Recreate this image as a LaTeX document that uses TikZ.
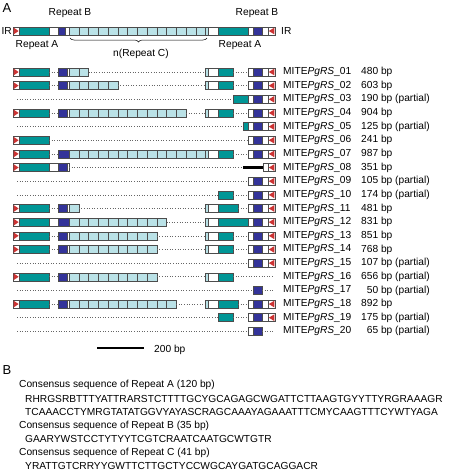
\documentclass[tikz,border=0pt]{standalone}
\usepackage{fontspec}
\setmainfont{Liberation Sans}
\usetikzlibrary{decorations.pathreplacing}

\definecolor{repA}{RGB}{0,150,150}
\definecolor{repB}{RGB}{51,51,153}
\definecolor{repC}{RGB}{186,226,231}
\definecolor{irred}{RGB}{204,51,51}

\tikzset{
    my-rep-a/.style={
        draw=black!70, fill=repA, line width=0.5pt
    },
    my-rep-b/.style={
        draw=black!70, fill=repB, line width=0.5pt
    },
    my-rep-c/.style={
        draw=black!70, fill=repC, line width=0.5pt
    },
    my-spacer/.style={
        draw=black!70, fill=white, line width=0.5pt
    },
    my-tir/.style={
        fill=irred
    },
    my-gap/.style={
        draw=black!60, dotted, line width=0.6pt
    },
    my-label/.style={
        font=\fontsize{10.2}{12}\selectfont, inner sep=0pt
    },
}

% BOXES AND LINES OF ONE ROW
\newcommand{\segbox}[4]{\draw[#1] (#2,{#4-4}) rectangle (#3,{#4+4});}
\newcommand{\gapline}[3]{\draw[my-gap] (#1,#3) -- (#2,#3);}
\newcommand{\tirleft}[1]{\draw[my-spacer] (13,{#1-4}) rectangle (19,{#1+4});
    \fill[my-tir] (13.6,{#1-3.4}) -- (18.6,#1) -- (13.6,{#1+3.4}) -- cycle;}
\newcommand{\tirright}[1]{\draw[my-spacer] (268,{#1-4}) rectangle (275,{#1+4});
    \fill[my-tir] (274.4,{#1-3.4}) -- (268.8,#1) -- (274.4,{#1+3.4}) -- cycle;}
\newcommand{\leftend}[1]{\tirleft{#1}\segbox{my-rep-a}{19}{49}{#1}}
\newcommand{\repb}[1]{\segbox{my-rep-b}{58}{67}{#1}\segbox{my-spacer}{67}{69}{#1}}
\newcommand{\cells}[2]{\foreach \k in {1,...,#1}{\segbox{my-rep-c}{{69+(\k-1)*9.75}}{{69+\k*9.75}}{#2}}}
\newcommand{\rightstart}[2]{\segbox{my-rep-c}{205}{208}{#2}\segbox{my-spacer}{208}{218}{#2}\segbox{my-rep-a}{218}{#1}{#2}}
\newcommand{\rightend}[1]{\segbox{my-spacer}{248}{253}{#1}\segbox{my-rep-b}{253}{262}{#1}\segbox{my-spacer}{262}{268}{#1}\tirright{#1}}

\begin{document}
\begin{tikzpicture}[x=1pt, y=-1pt]

        \useasboundingbox (0,0) rectangle (457,472);

        % PANEL A, CONSENSUS STRUCTURE
        \node[my-label, font=\fontsize{13}{14}\selectfont, anchor=west] (PANELA) at (2.5,8) {A};
        \leftend{31}
        \segbox{my-spacer}{49}{58}{31}
        \segbox{my-rep-b}{58}{65}{31}
        \segbox{my-spacer}{65}{69}{31}
        \cells{14}{31}
        \rightstart{248}{31}
        \rightend{31}

        % LABELS OF THE CONSENSUS
        \node[my-label, anchor=east] (IRL)    at (12,31)   {IR};
        \node[my-label, anchor=west] (IRR)    at (281,31)  {IR};
        \node[my-label]              (REPBL)  at (70,13)   {Repeat B};
        \node[my-label]              (REPBR)  at (257,13)  {Repeat B};
        \node[my-label]              (REPAL)  at (37,45)   {Repeat A};
        \node[my-label]              (REPAR)  at (240,45)  {Repeat A};
        \draw[decorate, decoration={brace, mirror, amplitude=4pt}, line width=0.5pt] (70,38) -- (207,38);
        \node[my-label]              (REPC)   at (141,54)  {n(Repeat C)};

        % ROW 01
        \leftend{72} \gapline{49}{58}{72} \repb{72} \cells{2}{72}
        \gapline{88.5}{205}{72} \rightstart{233}{72} \gapline{233}{248}{72} \rightend{72}

        % ROW 02
        \leftend{85.65} \gapline{49}{58}{85.65} \repb{85.65} \cells{5}{85.65}
        \gapline{117.75}{205}{85.65} \rightstart{233}{85.65} \gapline{233}{248}{85.65} \rightend{85.65}

        % ROW 03
        \gapline{17}{233}{99.3} \segbox{my-rep-a}{233}{248}{99.3} \rightend{99.3}

        % ROW 04
        \leftend{112.95} \gapline{49}{58}{112.95} \repb{112.95} \cells{12}{112.95}
        \gapline{186}{205}{112.95} \rightstart{233}{112.95} \gapline{233}{248}{112.95} \rightend{112.95}

        % ROW 05
        \gapline{17}{243}{126.6} \segbox{my-rep-a}{243}{248}{126.6} \rightend{126.6}

        % ROW 06
        \leftend{140.25} \gapline{49}{248}{140.25} \rightend{140.25}

        % ROW 07
        \leftend{153.9} \gapline{49}{58}{153.9} \segbox{my-rep-b}{58}{69}{153.9} \cells{14}{153.9}
        \rightstart{233}{153.9} \gapline{233}{248}{153.9} \rightend{153.9}

        % ROW 08
        \leftend{167.55} \segbox{my-spacer}{49}{58}{167.55} \repb{167.55}
        \gapline{69}{243}{167.55} \draw[line width=2.2pt] (243,167.55) -- (263,167.55);
        \segbox{my-spacer}{263}{268}{167.55} \tirright{167.55}

        % ROW 09
        \gapline{17}{248}{181.2} \rightend{181.2}

        % ROW 10
        \gapline{17}{218}{194.85} \segbox{my-rep-a}{218}{233}{194.85} \gapline{233}{248}{194.85} \rightend{194.85}

        % ROW 11
        \leftend{208.5} \gapline{49}{58}{208.5} \repb{208.5} \cells{1}{208.5}
        \gapline{78.75}{205}{208.5} \rightstart{238}{208.5} \gapline{238}{248}{208.5} \rightend{208.5}

        % ROW 12
        \leftend{222.15} \segbox{my-spacer}{49}{58}{222.15} \segbox{my-rep-b}{58}{69}{222.15} \cells{10}{222.15}
        \gapline{166.5}{205}{222.15} \rightstart{248}{222.15} \rightend{222.15}

        % ROW 13
        \leftend{235.8} \gapline{49}{58}{235.8} \repb{235.8} \cells{9}{235.8}
        \gapline{156.75}{205}{235.8} \rightstart{233}{235.8} \gapline{233}{248}{235.8} \rightend{235.8}

        % ROW 14
        \leftend{249.45} \gapline{49}{58}{249.45} \repb{249.45} \cells{9}{249.45}
        \gapline{156.75}{205}{249.45} \rightstart{233}{249.45} \gapline{233}{248}{249.45} \rightend{249.45}

        % ROW 15
        \gapline{17}{248}{263.1} \rightend{263.1}

        % ROW 16
        \leftend{276.75} \gapline{49}{58}{276.75} \repb{276.75} \cells{9}{276.75}
        \gapline{156.75}{205}{276.75} \rightstart{233}{276.75} \gapline{233}{273}{276.75}

        % ROW 17
        \gapline{17}{253}{290.4} \segbox{my-rep-b}{253}{262}{290.4} \gapline{262}{273}{290.4}

        % ROW 18
        \leftend{304.05} \gapline{49}{58}{304.05} \repb{304.05} \cells{11}{304.05}
        \gapline{176.25}{205}{304.05} \rightstart{238}{304.05} \gapline{238}{248}{304.05} \rightend{304.05}

        % ROW 19
        \gapline{17}{218}{317.7} \segbox{my-rep-a}{218}{233}{317.7} \gapline{233}{248}{317.7} \rightend{317.7}

        % ROW 20
        \gapline{17}{248}{331.35} \segbox{my-spacer}{248}{253}{331.35} \segbox{my-rep-b}{253}{262}{331.35} \gapline{262}{273}{331.35}

        % NAMES AND LENGTHS
        \foreach \n/\s [count=\i] in {01/480 bp, 02/603 bp, 03/190 bp (partial), 04/904 bp,
                05/125 bp (partial), 06/241 bp, 07/987 bp, 08/351 bp, 09/105 bp (partial),
                10/174 bp (partial), 11/481 bp, 12/831 bp, 13/851 bp, 14/768 bp,
                15/107 bp (partial), 16/656 bp (partial), 17/\phantom{0}50 bp (partial),
                18/892 bp, 19/175 bp (partial), 20/\phantom{0}65 bp (partial)}{
            \node[my-label, anchor=west] (MITE\n) at (283,{72+(\i-1)*13.65}) {MITE\textit{PgRS}\_\n};
            \node[my-label, anchor=west] (SIZE\n) at (361,{72+(\i-1)*13.65}) {\s};
        }

        % SCALE BAR
        \coordinate (BARL) at (97,348);
        \coordinate (BARR) at (144,348);
        \draw[line width=2.5pt] (BARL) -- (BARR);
        \node[my-label, anchor=west] (BARTXT) at (154,350) {200 bp};

        % PANEL B, CONSENSUS SEQUENCES
        \node[my-label, font=\fontsize{13}{14}\selectfont, anchor=west] (PANELB) at (2.5,370) {B};
        \node[my-label, anchor=west] (CONSA) at (19,385) {Consensus sequence of Repeat A (120 bp)};
        \node[my-label, anchor=west] (SEQA1) at (25,398.5) {RHRGSRBTTTYATTRARSTCTTTTGCYGCAGAGCWGATTCTTAAGTGYYTTYRGRAAAGR};
        \node[my-label, anchor=west] (SEQA2) at (25,412) {TCAAACCTYMRGTATATGGVYAYASCRAGCAAAYAGAAATTTCMYCAAGTTTCYWTYAGA};
        \node[my-label, anchor=west] (CONSB) at (19,425.5) {Consensus sequence of Repeat B (35 bp)};
        \node[my-label, anchor=west] (SEQB)  at (25,439) {GAARYWSTCCTYTYYTCGTCRAATCAATGCWTGTR};
        \node[my-label, anchor=west] (CONSC) at (19,452.5) {Consensus sequence of Repeat C (41 bp)};
        \node[my-label, anchor=west] (SEQC)  at (25,466) {YRATTGTCRRYYGWTTCTTGCTYCCWGCAYGATGCAGGACR};

    \end{tikzpicture}
\end{document}
